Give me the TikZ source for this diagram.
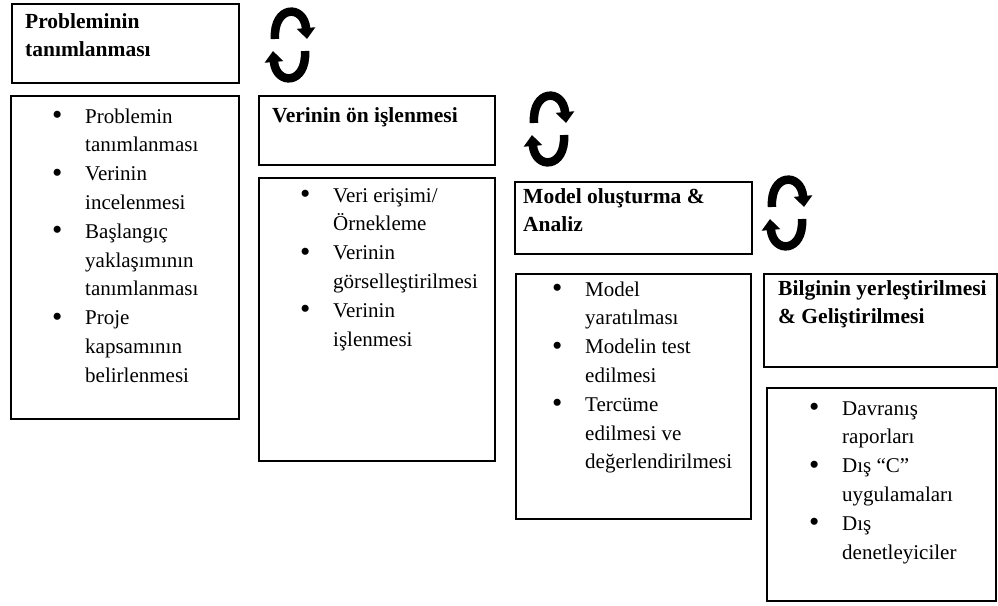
\documentclass[tikz,border=0pt]{standalone}
\usepackage{fontspec}
\setmainfont{Liberation Serif}
\usetikzlibrary{arrows.meta}

% bullet column of the step lists
\newcommand{\bul}{\makebox[33pt][l]{\raisebox{-1.6pt}{\scalebox{1.4}{\textbullet}}}}

\begin{document}
\begin{tikzpicture}[x=1pt,y=-1pt,
  frame/.style={draw, line width=2.2pt, inner sep=0pt, anchor=north west},
  ttl/.style={anchor=base west, inner sep=0pt,
    font=\fontsize{21.5}{28}\selectfont\bfseries},
  lst/.style={anchor=base west, inner sep=0pt,
    font=\fontsize{21}{28.8}\selectfont},
  cyc/.style={line width=8.5pt, -{Triangle[width=18pt,length=11pt]}},
  cyclearrow/.pic={
    \draw[cyc] (-15,-7) .. controls (-17,-41) and (14,-42) .. (17,-7);
    \draw[cyc] (15,5) .. controls (17,39) and (-14,40) .. (-17,5);
  }]
\fill[white] (0,0) rectangle (998,605);
\useasboundingbox (0,0) rectangle (998,605);

% step 1
\node[frame, minimum width=227pt, minimum height=79pt] (t1) at (11,3) {};
\node[ttl] (t1txt) at (25,28) {\begin{tabular}[t]{@{}l@{}}Probleminin\\tanımlanması\end{tabular}};
\node[frame, minimum width=228pt, minimum height=323pt] (l1) at (10,95) {};
\node[lst] (l1txt) at (52,123) {\begin{tabular}[t]{@{}l@{}l@{}}
\bul & Problemin\\ & tanımlanması\\
\bul & Verinin\\ & incelenmesi\\
\bul & Başlangıç\\ & yaklaşımının\\ & tanımlanması\\
\bul & Proje\\ & kapsamının\\ & belirlenmesi
\end{tabular}};

% step 2
\node[frame, minimum width=236pt, minimum height=69pt] (t2) at (258,95) {};
\node[ttl] (t2txt) at (272,122) {Verinin ön işlenmesi};
\node[frame, minimum width=236pt, minimum height=283pt] (l2) at (258,177) {};
\node[lst] (l2txt) at (300,202) {\begin{tabular}[t]{@{}l@{}l@{}}
\bul & Veri erişimi/\\ & Örnekleme\\
\bul & Verinin\\ & görselleştirilmesi\\
\bul & Verinin\\ & işlenmesi
\end{tabular}};

% step 3
\node[frame, minimum width=237pt, minimum height=72pt] (t3) at (514,181) {};
\node[ttl] (t3txt) at (523,203) {\begin{tabular}[t]{@{}l@{}}Model oluşturma \&\\Analiz\end{tabular}};
\node[frame, minimum width=235pt, minimum height=245pt] (l3) at (515,273) {};
\node[lst] (l3txt) at (552,296) {\begin{tabular}[t]{@{}l@{}l@{}}
\bul & Model\\ & yaratılması\\
\bul & Modelin test\\ & edilmesi\\
\bul & Tercüme\\ & edilmesi ve\\ & değerlendirilmesi
\end{tabular}};

% step 4
\node[frame, minimum width=233pt, minimum height=93pt] (t4) at (763,273) {};
\node[ttl] (t4txt) at (778,295) {\begin{tabular}[t]{@{}l@{}}Bilginin yerleştirilmesi\\\& Geliştirilmesi\end{tabular}};
\node[frame, minimum width=229pt, minimum height=213pt] (l4) at (766,387) {};
\node[lst] (l4txt) at (809,415) {\begin{tabular}[t]{@{}l@{}l@{}}
\bul & Davranış\\ & raporları\\
\bul & Dış “C”\\ & uygulamaları\\
\bul & Dış\\ & denetleyiciler
\end{tabular}};

% cycle symbols between the steps
\coordinate (c1) at (290,46);
\coordinate (c2) at (549,130);
\coordinate (c3) at (787,214);
\pic at (c1) {cyclearrow};
\pic at (c2) {cyclearrow};
\pic at (c3) {cyclearrow};
\end{tikzpicture}
\end{document}
